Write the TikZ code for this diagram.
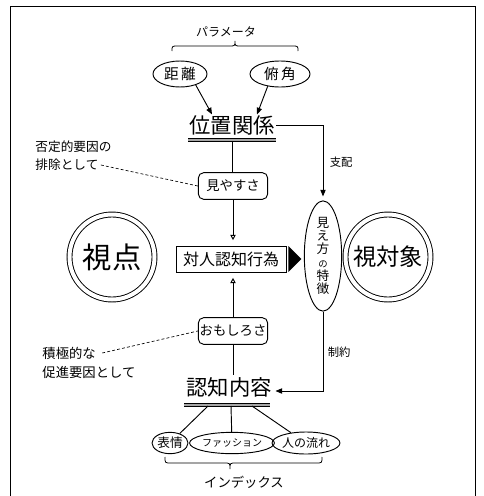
\documentclass[tikz,border=0pt]{standalone}
\usepackage{fontspec}
\newfontfamily\jp{Noto Sans CJK JP}
\usetikzlibrary{arrows.meta,calc,shapes.geometric}
\tikzset{
  fs/.style={font={\jp\fontsize{#1pt}{#1pt}\selectfont}},
  arr/.style={-{Triangle[length=5pt,width=4pt]}},
  harr/.style={-{Triangle[open,length=4pt,width=4pt]}},
  ell/.style={ellipse, draw, inner sep=0pt},
  rbox/.style={draw, rounded corners=4pt, minimum width=52pt, minimum height=20pt, inner sep=0pt},
  dcirc/.style={circle, draw, double=white, double distance=3pt, minimum size=63.75pt, inner sep=0pt},
  ul/.style={double=black!35, double distance=1.5pt, line width=0.5pt},
  dsh/.style={dash pattern=on 2.2pt off 1.6pt, line width=0.5pt},
  plain/.style={inner sep=1pt}
}
\begin{document}
\begin{tikzpicture}[x=0.75pt,y=-0.75pt,line width=0.7pt]
\useasboundingbox (0,0) rectangle (484,496);
% frame
\draw (10,497) -- (10,6) -- (475,6) -- (475,497);

% parameters
\node[plain, fs=9] (param) at (226,32) {パラメータ};
\draw[line width=0.6pt] (172,51) .. controls (172,46) .. (178,46) -- (229,46) .. controls (235,46) .. (235,41) .. controls (235,46) .. (241,46) -- (292,46) .. controls (298,46) .. (298,51);
\node[ell, fs=11, minimum width=40.5pt, minimum height=19.5pt] (kyori) at (180,74) {距\,離};
\node[ell, fs=11, minimum width=45pt, minimum height=19.5pt] (fukaku) at (280,74) {俯\,角};

% position relation
\node[plain, fs=16] (ichi) at (232,125) {位置関係};
\coordinate (u1) at (232,140);
\draw[ul] ($(u1)+(-44,0)$) -- ($(u1)+(44,0)$);
\draw[arr] (kyori.-35) -- ($(ichi.north)+(-20,1)$);
\draw[arr] (fukaku.-135) -- ($(ichi.north)+(25,1)$);

% visibility
\node[rbox, fs=10] (miyasu) at (233,186) {見やすさ};
\draw ($(u1)+(0,1)$) -- (u1 |- miyasu.north);

% left text 1
\node[plain, inner sep=0pt, anchor=west, fs=9.5] (h1) at (35,147) {否定的要因の};
\node[plain, inner sep=0pt, anchor=west, fs=9.5] (h2) at (35,165) {排除として};
\draw[dsh] ($(h2.east)+(2,0)$) -- (miyasu.west);

% central act
\node[draw, fs=12, minimum width=82.5pt, minimum height=19.5pt, inner sep=0pt] (taijin) at (231,259) {対人認知行為};
\draw[harr, shorten >=4pt] (miyasu.south) -- (miyasu.south |- taijin.north);
\fill ($(taijin.east)+(2,-13)$) -- ++(13,13) -- ++(-13,13) -- cycle;

% circles
\node[dcirc, fs=22] (shiten) at (112,257) {視点};
\node[dcirc, fs=17.5] (taisho) at (388,257) {視対象};

% appearance features
\node[ell, minimum width=28pt, minimum height=69pt, align=center, font={\jp\fontsize{9.5pt}{10pt}\selectfont}] (mie) at (323,256)
  {見\\え\\方\\{\fontsize{7pt}{10pt}\selectfont の}\\特\\徴};
\draw[arr, shorten >=3pt] (ichi.east) -| (mie.north);
\node[plain, anchor=west, fs=8.5] (shihai) at (328,162) {支配};

% interest
\node[rbox, fs=10] (omoshiro) at (233,331) {おもしろさ};
\draw[harr, shorten >=4pt] (omoshiro.north) -- (omoshiro.north |- taijin.south);

% left text 2
\node[plain, inner sep=0pt, anchor=west, fs=10] (s1) at (42,353) {積極的な};
\node[plain, inner sep=0pt, anchor=west, fs=10] (s2) at (42,372) {促進要因として};
\draw[dsh] ($(s1.east)+(6,0)$) -- (omoshiro.west);

% cognition content
\node[plain, fs=16] (ninchi) at (229,387) {認知内容};
\draw (omoshiro.south) -- (omoshiro.south |- ninchi.north);
\coordinate (u2) at (229,405);
\draw[ul] ($(u2)+(-45,0)$) -- ($(u2)+(41,0)$);
\draw[arr] (mie.south) |- ($(ninchi.east)+(2,4)$);
\node[plain, anchor=west, fs=8.5] (seiyaku) at (326,352) {制約};

% indices
\node[ell, fs=9.5, minimum width=27pt, minimum height=16pt] (hyojo) at (170,443) {表情};
\node[ell, fs=7.5, minimum width=51pt, minimum height=16pt] (fashion) at (232,443) {ファッション};
\node[ell, fs=9, minimum width=47pt, minimum height=16.5pt] (nagare) at (306,443) {人の流れ};
\draw ($(u2)+(-21,1)$) -- (hyojo);
\draw ($(u2)+(2,1)$) -- (fashion);
\draw ($(u2)+(23,1)$) -- (nagare);
\draw[line width=0.6pt] (165,457) .. controls (165,463) .. (171,463) -- (224,463) .. controls (230,463) .. (230,469) .. controls (230,463) .. (236,463) -- (316,463) .. controls (322,463) .. (322,457);
\node[plain, fs=10] (index) at (244,482) {インデックス};
\end{tikzpicture}
\end{document}
